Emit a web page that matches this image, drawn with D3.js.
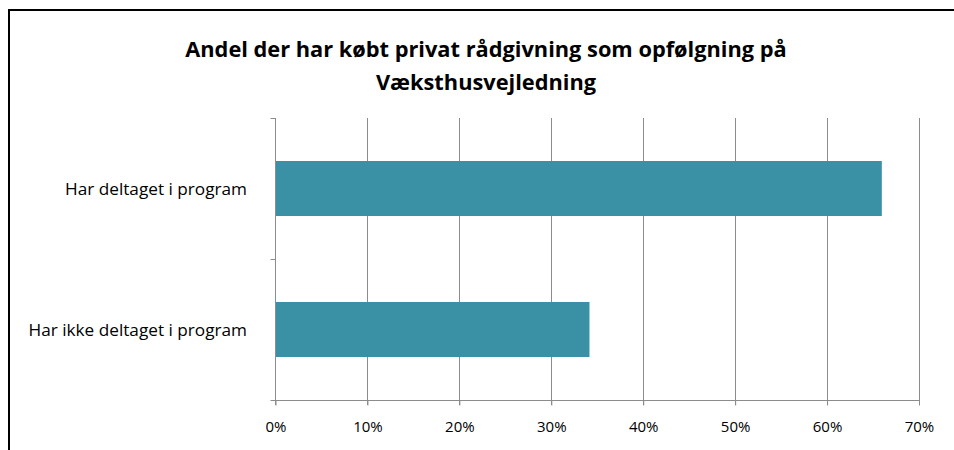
<!DOCTYPE html>
<html>
<head>
<meta charset="utf-8">
<script src="https://cdn.jsdelivr.net/npm/d3@7"></script>
<style>
html, body { margin: 0; background: #fff; overflow: hidden; }
svg { display: block; }
svg text { font-family: "Open Sans", Lato, sans-serif; fill: #000; }
</style>
</head>
<body>
<div id="viz_div"></div>
<script>
// chart values
var categories = ["Har deltaget i program", "Har ikke deltaget i program"];
var shares = [65.9, 34.1];
var tick_values = [0, 10, 20, 30, 40, 50, 60, 70];
var title_lines = ["Andel der har købt privat rådgivning som opfølgning på", "Væksthusvejledning"];

var w = 954, h = 450;
var plot = { left: 275.5, right: 919, top: 118, bottom: 400 };

var svg = d3.select("#viz_div")
			.append("svg")
			.attr("width", w)
			.attr("height", h);

// outer frame: only top and left edge are in view
svg.append("line")
	.attr("x1", 8).attr("x2", w)
	.attr("y1", 10).attr("y2", 10)
	.attr("stroke", "#000")
	.attr("stroke-width", 2);
svg.append("line")
	.attr("x1", 9).attr("x2", 9)
	.attr("y1", 9).attr("y2", h)
	.attr("stroke", "#000")
	.attr("stroke-width", 2);

var x = d3.scaleLinear()
			.domain([0, 70])
			.range([plot.left, plot.right]);

var y = d3.scaleBand()
			.domain(categories)
			.range([plot.top, plot.bottom])
			.paddingInner(0.61)
			.paddingOuter(0.305);

// shrink/grow a text so it spans the wanted width
function fit_text(sel, size, want) {
	sel.attr("font-size", size);
	var got = sel.node().getComputedTextLength();
	sel.attr("font-size", size * want / got);
}

// gridlines
svg.append("g")
	.selectAll("line")
	.data(tick_values.slice(1))
	.enter()
	.append("line")
	.attr("x1", function(d) { return Math.round(x(d)) + 0.5; })
	.attr("x2", function(d) { return Math.round(x(d)) + 0.5; })
	.attr("y1", plot.top)
	.attr("y2", plot.bottom + 5)
	.attr("stroke", "#8c8c8c")
	.attr("stroke-width", 1);

// bars
svg.append("g")
	.selectAll("rect")
	.data(shares)
	.enter()
	.append("rect")
	.attr("x", x(0) + 0.5)
	.attr("y", function(d, i) { return y(categories[i]); })
	.attr("width", function(d) { return x(d) - x(0); })
	.attr("height", y.bandwidth())
	.attr("fill", "#3a91a6");

// x axis
var x_axis = d3.axisBottom(x)
				.tickValues(tick_values)
				.tickSize(5)
				.tickFormat(function(d) { return d + "%"; });

var gx = svg.append("g")
			.attr("transform", "translate(0," + (plot.bottom + 0.5) + ")")
			.call(x_axis);
gx.select(".domain").attr("stroke", "#8c8c8c").attr("d", "M" + (plot.left - 5) + ",0H" + plot.right);
gx.selectAll(".tick line").attr("stroke", "#8c8c8c");
gx.selectAll(".tick text")
	.attr("y", 21)
	.attr("font-size", 15)
	.attr("font-family", "'Open Sans', sans-serif");

// y axis
var band_edges = [plot.top, (plot.top + plot.bottom) / 2];
var gy = svg.append("g");
gy.append("line")
	.attr("x1", plot.left).attr("x2", plot.left)
	.attr("y1", plot.top).attr("y2", plot.bottom + 5)
	.attr("stroke", "#8c8c8c");
gy.selectAll("line.tk")
	.data(band_edges)
	.enter()
	.append("line")
	.attr("class", "tk")
	.attr("x1", plot.left - 5).attr("x2", plot.left)
	.attr("y1", function(d) { return d + 0.5; })
	.attr("y2", function(d) { return d + 0.5; })
	.attr("stroke", "#8c8c8c");

var cat_labels = gy.selectAll("text")
	.data(categories)
	.enter()
	.append("text")
	.attr("x", 247)
	.attr("y", function(d) { return y(d) + y.bandwidth() / 2; })
	.attr("dy", "0.35em")
	.attr("text-anchor", "end")
	.text(function(d) { return d; });
fit_text(cat_labels.filter(function(d, i) { return i === 0; }), 15, 182);
cat_labels.attr("font-size", cat_labels.filter(function(d, i) { return i === 0; }).attr("font-size"));

// title
var title = svg.append("g")
	.selectAll("text")
	.data(title_lines)
	.enter()
	.append("text")
	.attr("x", 486)
	.attr("y", function(d, i) { return 57 + i * 33; })
	.attr("text-anchor", "middle")
	.attr("font-weight", "bold")
	.text(function(d) { return d; });
fit_text(title.filter(function(d, i) { return i === 0; }), 20, 602);
title.attr("font-size", title.filter(function(d, i) { return i === 0; }).attr("font-size"));
</script>
</body>
</html>
